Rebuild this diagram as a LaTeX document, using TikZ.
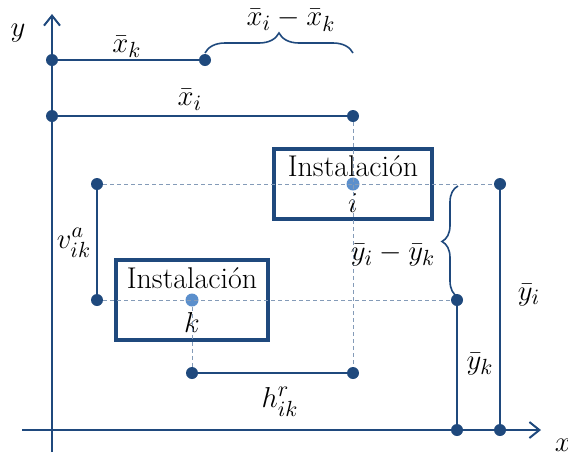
\documentclass[tikz,border=0pt]{standalone}
\usepackage{amsmath,amssymb}
\usetikzlibrary{arrows.meta,decorations.pathreplacing}

\definecolor{instblue}{RGB}{31,73,125}
\definecolor{centreblue}{RGB}{91,143,204}

\begin{document}
\begin{tikzpicture}[x=0.5pt, y=-0.5pt, every node/.style={font=\fontsize{15}{18}\selectfont, inner sep=1pt},
  dot/.style={circle, fill=instblue, inner sep=0pt, minimum size=6pt},
  centre/.style={circle, fill=centreblue, inner sep=0pt, minimum size=6.5pt},
  guide/.style={dash pattern=on 2pt off 1.5pt, thin, instblue!55},
  seg/.style={line width=1pt, instblue},
  instbox/.style={draw=instblue, line width=1.6pt, align=center, inner sep=0pt},
  curly/.style={line width=0.8pt, instblue, decorate, decoration={brace, amplitude=#1}}]
  \useasboundingbox (0,0) rectangle (568,456);

  % Axes
  \coordinate (xstart) at (22,430);
  \coordinate (xend) at (541,430);
  \coordinate (ystart) at (52,452);
  \coordinate (yend) at (52,14);
  \draw[seg, -{Straight Barb[length=5pt, width=8pt]}] (xstart) -- (xend);
  \draw[seg, -{Straight Barb[length=5pt, width=8pt]}] (ystart) -- (yend);
  \node (xlab) at (563,445) {$x$};
  \node (ylab) at (18,33) {$y$};

  % Facilities
  \node[instbox, minimum width=79pt, minimum height=35pt] (boxi) at (353,184) {Instalación\\$i$};
  \node[instbox, minimum width=76pt, minimum height=40pt] (boxk) at (192,300) {Instalación\\[4pt]$k$};
  \node[centre] (ci) at (boxi.center) {};
  \node[centre] (ck) at (boxk.center) {};

  % Points
  \node[dot] (xk0) at (52,60) {};
  \node[dot] (xk) at (205,60) {};
  \node[dot] (xi0) at (52,116) {};
  \node[dot] (xi) at (353,116) {};
  \node[dot] (vtop) at (97,184) {};
  \node[dot] (vbot) at (97,300) {};
  \node[dot] (hl) at (192,373) {};
  \node[dot] (hr) at (353,373) {};
  \node[dot] (yitop) at (500,184) {};
  \node[dot] (yibot) at (500,430) {};
  \node[dot] (yktop) at (457,300) {};
  \node[dot] (ykbot) at (457,430) {};

  % Guides
  \draw[guide] (vtop) -- (yitop);
  \draw[guide] (vbot) -- (yktop);
  \draw[guide] (xi) -- (hr);
  \draw[guide] (ck) -- (hl);

  % Distances
  \draw[seg] (xk0) -- (xk);
  \draw[seg] (xi0) -- (xi);
  \draw[seg] (vtop) -- (vbot);
  \draw[seg] (hl) -- (hr);
  \draw[seg] (yitop) -- (yibot);
  \draw[seg] (yktop) -- (ykbot);

  % Braces
  \coordinate (bxl) at (205,53);
  \coordinate (bxr) at (353,53);
  \coordinate (byb) at (458,297);
  \coordinate (byt) at (458,186);
  \draw[curly=10pt] (bxl) -- (bxr);
  \draw[curly=8pt] (byb) -- (byt);

  % Labels
  \node (lxk) at (127,47) {$\bar{x}_k$};
  \node (lxi) at (190,100) {$\bar{x}_i$};
  \node (lxik) at (291,20) {$\bar{x}_i - \bar{x}_k$};
  \node (lv) at (74,243) {$v^a_{ik}$};
  \node (lh) at (280,402) {$h^r_{ik}$};
  \node (lyik) at (393,255) {$\bar{y}_i - \bar{y}_k$};
  \node (lyk) at (480,364) {$\bar{y}_k$};
  \node (lyi) at (529,295) {$\bar{y}_i$};
\end{tikzpicture}
\end{document}
